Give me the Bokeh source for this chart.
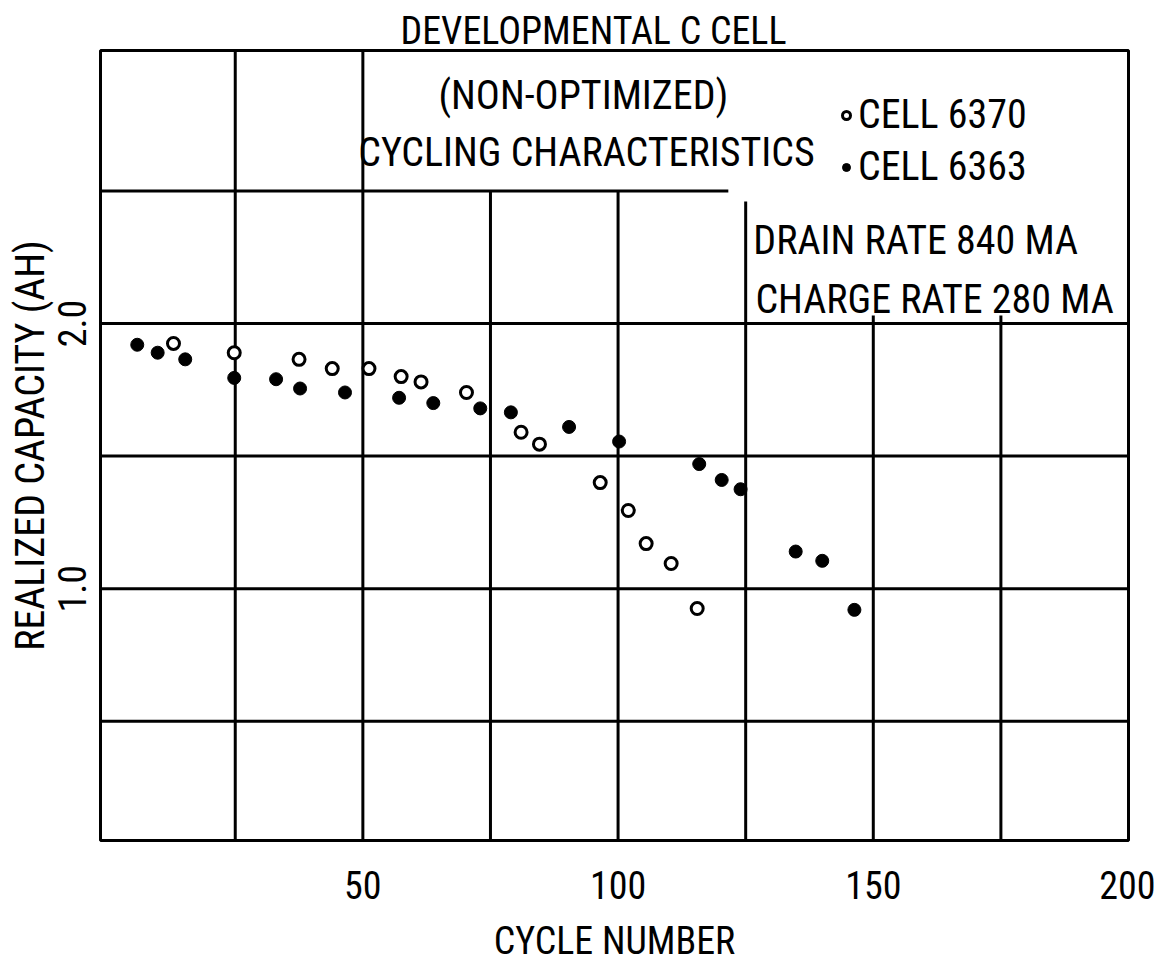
from bokeh.plotting import figure
from bokeh.models import FixedTicker, PrintfTickFormatter, Label, Legend, LegendItem
from bokeh.embed import file_html
from bokeh.resources import INLINE

# ---- data ----
cell6370_cycle = [12.9, 24.8, 37.5, 44.0, 51.2, 57.5, 61.4, 70.3, 81.0, 84.6,
                  96.5, 102.0, 105.5, 110.4, 115.5]
cell6370_cap = [1.925, 1.89, 1.865, 1.83, 1.83, 1.80, 1.78, 1.74, 1.59, 1.545,
                1.40, 1.295, 1.17, 1.095, 0.925]

cell6363_cycle = [5.8, 9.8, 15.2, 24.8, 33.0, 37.7, 46.5, 57.1, 63.8, 73.0,
                  79.0, 90.4, 100.2, 115.9, 120.3, 124.0, 134.8, 140.0, 146.3]
cell6363_cap = [1.92, 1.89, 1.865, 1.795, 1.79, 1.755, 1.74, 1.72, 1.70, 1.68,
                1.665, 1.61, 1.555, 1.47, 1.41, 1.375, 1.14, 1.105, 0.92]

x_ticks = [50, 100, 150, 200]
y_ticks = [1.0, 2.0]

X_MIN, X_MAX = -1.4, 200
Y_MIN, Y_MAX = 0.05, 3.03

# grid of the hand-drawn chart
grid_x = [25, 50, 75, 100, 125, 150, 175]
grid_x_top = [Y_MAX, Y_MAX, 2.5, 2.5, 2.46, 2.03, 2.03]
grid_y = [0.5, 1.0, 1.5, 2.0, 2.5]
grid_y_right = [X_MAX, X_MAX, X_MAX, X_MAX, 121.6]

FONT = "'Roboto Condensed', Roboto, sans-serif"
FS = "40px"

p = figure(width=1155, height=972, x_range=(X_MIN, X_MAX), y_range=(Y_MIN, Y_MAX),
           output_backend="svg", toolbar_location=None,
           min_border_left=100, min_border_right=27, min_border_top=50,
           min_border_bottom=132)

p.title.text = "DEVELOPMENTAL C CELL"
p.title.align = "left"
p.title.offset = 300
p.title.standoff = -5
p.title.text_font = FONT
p.title.text_font_size = "38px"
p.title.text_font_style = "normal"
p.title.text_color = "black"

p.xgrid.visible = False
p.ygrid.visible = False
p.outline_line_color = "black"
p.outline_line_width = 3
p.background_fill_color = "white"
p.border_fill_color = "white"

# axes
for ax in (p.xaxis[0], p.yaxis[0]):
    ax.axis_line_color = None
    ax.major_tick_line_color = None
    ax.minor_tick_line_color = None
    ax.major_label_text_font = FONT
    ax.major_label_text_font_size = "38px"
    ax.major_label_text_color = "black"
    ax.axis_label_text_font = FONT
    ax.axis_label_text_font_size = FS
    ax.axis_label_text_font_style = "normal"
    ax.axis_label_text_color = "black"

p.xaxis.ticker = FixedTicker(ticks=x_ticks)
p.xaxis.major_label_standoff = 24
p.xaxis.axis_label = "CYCLE NUMBER"
p.xaxis.axis_label_text_font_size = "38px"
p.xaxis.axis_label_standoff = 17

p.yaxis.ticker = FixedTicker(ticks=y_ticks)
p.yaxis.formatter = PrintfTickFormatter(format="%.1f")
p.yaxis.major_label_orientation = "vertical"
p.yaxis.major_label_standoff = 8
p.yaxis.axis_label = "REALIZED CAPACITY (AH)"
p.yaxis.axis_label_standoff = 2

# grid lines
p.segment(x0=grid_x, y0=[Y_MIN] * len(grid_x), x1=grid_x, y1=grid_x_top,
          line_color="black", line_width=3)
p.segment(x0=[X_MIN] * len(grid_y), y0=grid_y, x1=grid_y_right, y1=grid_y,
          line_color="black", line_width=3)

# data points
r_open = p.scatter(cell6370_cycle, cell6370_cap, size=12, marker="circle",
                   fill_color="white", line_color="black", line_width=3)
r_fill = p.scatter(cell6363_cycle, cell6363_cap, size=13, marker="circle",
                   fill_color="black", line_color="black", line_width=1)

legend = Legend(items=[LegendItem(label="CELL 6370", renderers=[r_open]),
                       LegendItem(label="CELL 6363", renderers=[r_fill])],
                location=(736, 650), background_fill_alpha=0,
                border_line_alpha=0, label_text_font=FONT,
                label_text_font_size=FS, label_text_color="black",
                glyph_width=20, glyph_height=20,
                label_standoff=2, spacing=5, padding=0, margin=0)
p.add_layout(legend)

def lab(x, y, text, align="center"):
    p.add_layout(Label(x=x, y=y, text=text, text_font=FONT,
                       text_font_size=FS, text_align=align,
                       text_baseline="alphabetic", text_color="black"))

lab(93.2, 2.86, "(NON-OPTIMIZED)")
lab(93.8, 2.645, "CYCLING CHARACTERISTICS")
lab(126.5, 2.313, "DRAIN RATE 840 MA", align="left")
lab(126.9, 2.089, "CHARGE RATE 280 MA", align="left")

open("out.html", "w").write(file_html(p, INLINE))
